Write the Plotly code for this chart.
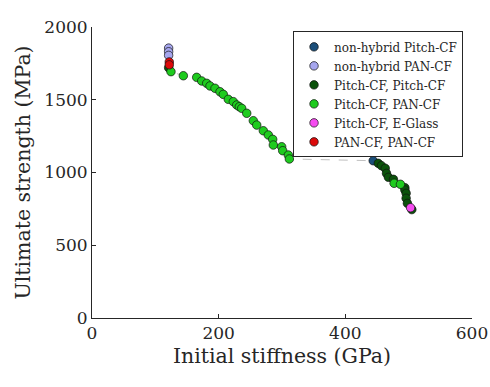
import plotly.graph_objects as go

# Data (GPa, MPa)
nh_pitch_x = [444]
nh_pitch_y = [1081]

nh_pan_x = [121, 121, 121]
nh_pan_y = [1855, 1830, 1805]

pitch_pitch_x = [452, 457, 463, 465, 468, 476, 494, 494, 496, 496, 498, 505, 121]
pitch_pitch_y = [1063, 1047, 1029, 994, 967, 953, 896, 880, 857, 823, 788, 745, 1720]

pitch_pan_x = [124.7, 144.2, 165.3, 173.2, 181.1, 186.3, 194.2, 202.1, 207.3, 215.2, 223.1,
               228.5, 232.6, 236.4, 244.3, 254.7, 260.1, 270.5, 278.4, 285.3, 286.3, 299.5,
               301.1, 310, 311.6, 477, 487]
pitch_pan_y = [1693, 1665, 1654, 1629, 1613, 1595, 1579, 1555, 1537, 1503, 1487,
               1464, 1452, 1441, 1407, 1356, 1326, 1287, 1258, 1228, 1189, 1177,
               1150, 1120, 1093, 926, 919]

pitch_glass_x = [503]
pitch_glass_y = [758]

pan_pan_x = [122, 122]
pan_pan_y = [1760, 1740]

series = [
    ("non-hybrid Pitch-CF", nh_pitch_x, nh_pitch_y, "#1b4f7a"),
    ("non-hybrid PAN-CF", nh_pan_x, nh_pan_y, "#a6a6ee"),
    ("Pitch-CF, Pitch-CF", pitch_pitch_x, pitch_pitch_y, "#0b520b"),
    ("Pitch-CF, PAN-CF", pitch_pan_x, pitch_pan_y, "#1ecb1e"),
    ("Pitch-CF, E-Glass", pitch_glass_x, pitch_glass_y, "#f54cf0"),
    ("PAN-CF, PAN-CF", pan_pan_x, pan_pan_y, "#dc0a0a"),
]

# front line through all points sorted by stiffness
allpts = []
for _, xs, ys, _c in series:
    allpts += list(zip(xs, ys))
allpts.sort(key=lambda p: (p[0], -p[1]))

fig = go.Figure()
fig.add_trace(go.Scatter(
    x=[p[0] for p in allpts], y=[p[1] for p in allpts], mode="lines",
    line=dict(color="#c0c0c0", width=1, dash="dash"), showlegend=False, hoverinfo="skip"))

for name, xs, ys, c in series:
    fig.add_trace(go.Scatter(
        x=xs, y=ys, mode="markers", name=name,
        marker=dict(size=8.5, color=c, line=dict(color="#111111", width=0.7))))

font = "DejaVu Serif, serif"
fig.update_layout(
    width=490, height=387,
    margin=dict(l=92, r=18, t=27, b=69),
    paper_bgcolor="white", plot_bgcolor="white",
    font=dict(family=font, color="#262626"),
    xaxis=dict(range=[0, 600], tickvals=[0, 200, 400, 600], showgrid=False, zeroline=False,
               showline=True, linecolor="#262626", linewidth=1, ticks="inside", ticklen=4,
               tickcolor="#262626", tickfont=dict(size=17), automargin=False,
               title=dict(text="Initial stiffness (GPa)", font=dict(size=20.5), standoff=6)),
    yaxis=dict(range=[0, 2000], tickvals=[0, 500, 1000, 1500, 2000], showgrid=False, zeroline=False,
               showline=True, linecolor="#262626", linewidth=1, ticks="inside", ticklen=4,
               tickcolor="#262626", tickfont=dict(size=17), automargin=False,
               title=dict(text="Ultimate strength (MPa)", font=dict(size=20.5), standoff=8)),
    legend=dict(x=0.529, y=0.985, xanchor="left", yanchor="top",
                bgcolor="white", bordercolor="#262626", borderwidth=1,
                font=dict(size=12, family=font, color="#262626"), tracegroupgap=0,
                itemwidth=30, entrywidth=140),
)

fig.write_html("out.html")
